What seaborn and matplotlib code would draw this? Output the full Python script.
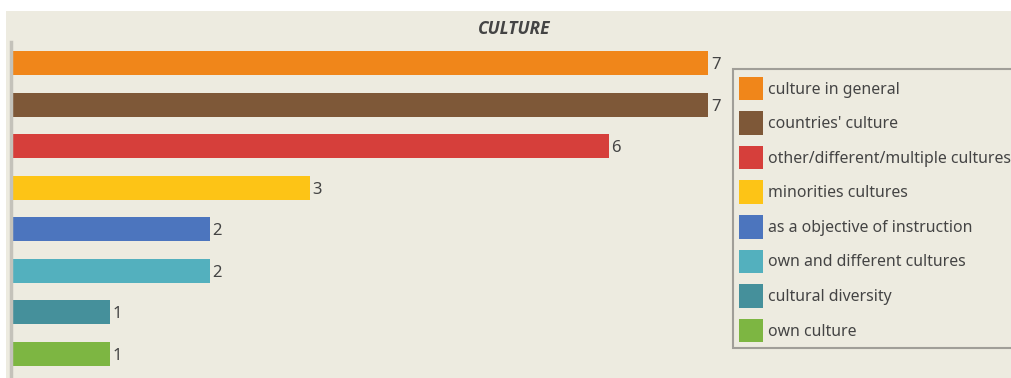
import matplotlib
matplotlib.use("Agg")
import matplotlib.pyplot as plt
from matplotlib.patches import Rectangle
import seaborn as sns
import pandas as pd

categories = [
    "culture in general",
    "countries' culture",
    "other/different/multiple cultures",
    "minorities cultures",
    "as a objective of instruction",
    "own and different cultures",
    "cultural diversity",
    "own culture",
]
counts = [7, 7, 6, 3, 2, 2, 1, 1]
colors = ["#F0861A", "#7E5838", "#D63F3B", "#FDC416",
          "#4C75BE", "#53B0BE", "#45909B", "#7DB642"]
title = "CULTURE"

sns.set_theme(style="white")
plt.rcParams["font.family"] = ["Noto Sans", "DejaVu Sans"]

W, H = 1012, 378
bg = "#EDEBE0"
fig = plt.figure(figsize=(W / 100, H / 100), dpi=100, facecolor="white")
fig.patches.append(Rectangle((6 / W, 0), 1 - 6 / W, 1 - 11 / H,
                             transform=fig.transFigure, facecolor=bg,
                             edgecolor="none", zorder=-5))

# axes: x=0 at 10.5px, one unit ~ 99.7px; rows ~41.6px apart
x0, unit = 10.5, 99.7
top, bottom = 42, 376
ax = fig.add_axes([x0 / W, 1 - bottom / H, (W - x0) / W, (bottom - top) / H])
ax.set_facecolor("none")
ax.set_xlim(0, (W - x0) / unit)

df = pd.DataFrame({"category": categories, "count": counts})
sns.barplot(data=df, y="category", x="count", hue="category",
            palette=colors, dodge=False, orient="h", width=0.58,
            saturation=1, linewidth=0, legend=False, ax=ax)
row = 41.6
ax.set_ylim(7 + (bottom - 354) / row, -(63 - top) / row)

for c in ax.containers:
    labels = ax.bar_label(c, padding=2, fontsize=12, color="#444444")
    for lb in labels:
        lb.set_y(lb.get_position()[1])
        lb.set_va("center_baseline")

ax.set_xlabel("")
ax.set_ylabel("")
ax.set_xticks([])
ax.set_yticks([])
for s in ["top", "right", "bottom"]:
    ax.spines[s].set_visible(False)
ax.spines["left"].set_color("#C4C2BA")
ax.spines["left"].set_linewidth(2.5)

fig.text(514 / W, 1 - 28.5 / H, title, ha="center", va="center",
         fontsize=12.5, fontweight="bold", fontstyle="italic",
         color="#444444", family=["Open Sans", "DejaVu Sans"])

# legend box, running past the right edge
fig.patches.append(Rectangle((733 / W, 1 - 348 / H), 290 / W, (348 - 69) / H,
                             transform=fig.transFigure, facecolor=bg,
                             edgecolor="#A09E98", linewidth=1.5, zorder=3))

handles = [Rectangle((0, 0), 1, 1, facecolor=col, edgecolor="none")
           for col in colors]
leg = fig.legend(handles, categories, loc="upper left",
                 bbox_to_anchor=(730 / W, 1 - 68 / H),
                 bbox_transform=fig.transFigure,
                 fontsize=11.4, handlelength=1.52, handleheight=1.92,
                 labelspacing=0.69, handletextpad=0.3, borderpad=0.55,
                 borderaxespad=0, frameon=False)
leg.set_zorder(4)
for t in leg.get_texts():
    t.set_color("#444444")

fig.savefig("out.png", dpi=100, facecolor="white")
